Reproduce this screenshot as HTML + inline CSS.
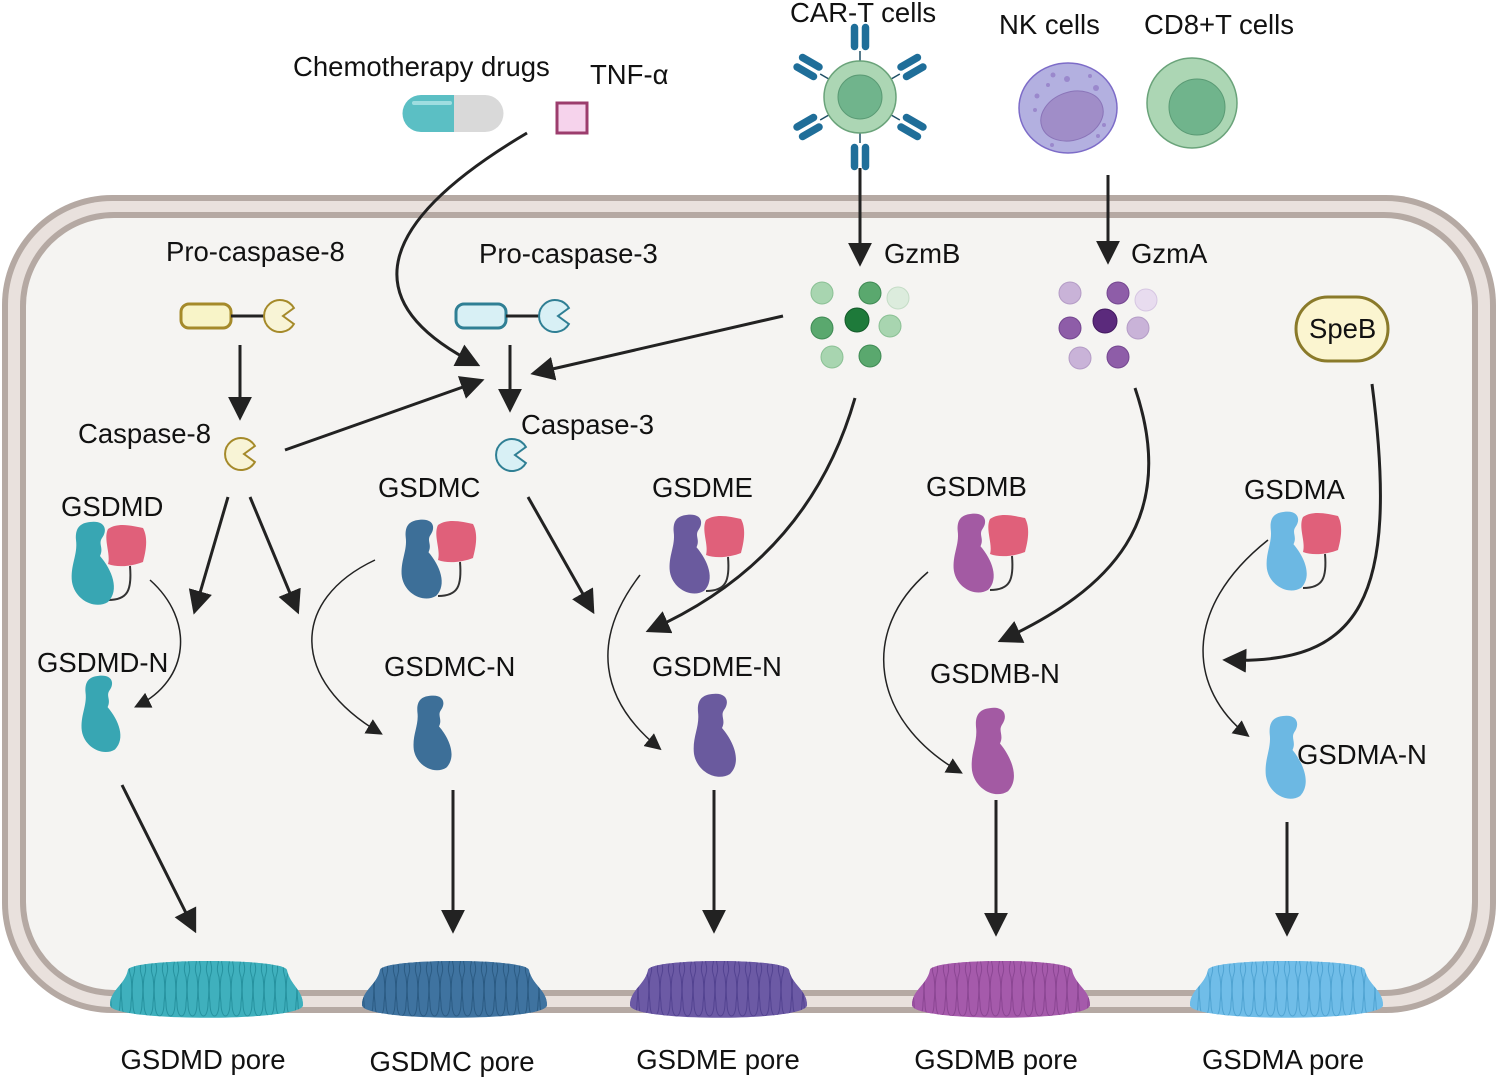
<!DOCTYPE html>
<html><head><meta charset="utf-8"><style>
html,body{margin:0;padding:0;background:#fff}
svg{display:block}
text{font-family:"Liberation Sans",sans-serif;font-size:27.5px;fill:#111}
</style></head><body>
<svg width="1498" height="1079" viewBox="0 0 1498 1079" xmlns="http://www.w3.org/2000/svg">
<defs>
<marker id="ah" viewBox="0 0 10 10" refX="8" refY="5" markerWidth="11" markerHeight="11" orient="auto" markerUnits="strokeWidth">
<path d="M0,0 L10,5 L0,10 Z" fill="#222"/></marker>
<marker id="ah2" viewBox="0 0 10 10" refX="8" refY="5" markerWidth="8" markerHeight="8" orient="auto" markerUnits="strokeWidth">
<path d="M0,0 L10,5 L0,10 Z" fill="#222"/></marker>
<path id="nb" d="M20,2 C35,0 38,10 32,18 C28,24 34,28 30,36 C42,50 50,70 38,82 C25,90 5,80 2,62 C0,45 8,35 6,20 C5,8 10,3 20,2Z"/>
<path id="pb" d="M5,5 C15,-2 30,2 40,4 C46,15 42,30 40,38 C30,42 15,44 5,40 C8,30 0,15 5,5Z"/>
<path id="pac" d="M13.9,-8 A16 16 0 1 0 13.9,8 L3,0Z"/>
<path id="pin" d="M5.5,1 C9,1 10,5 9,9 C8,13 8,16 10,22 C11,30 11,40 10,48 C10,56 8,61 5.5,61 C3,61 1,56 1,48 C0,40 0,30 1,22 C3,16 3,13 2,9 C1,5 2,1 5.5,1Z"/>
<g id="ab"><line x1="0" y1="-36" x2="0" y2="-46" stroke="#1f4f66" stroke-width="1.5"/>
<rect x="-10" y="-74" width="9" height="28" rx="4.5" fill="#1f6e99" stroke="#fff" stroke-width="1.5"/>
<rect x="1" y="-74" width="9" height="28" rx="4.5" fill="#1f6e99" stroke="#fff" stroke-width="1.5"/></g>
<pattern id="pD" width="11" height="70" patternUnits="userSpaceOnUse" x="0" y="955"><use href="#pin" fill="#3fb0bd" stroke="#25919e" stroke-width="1"/></pattern>
<pattern id="pC" width="11" height="70" patternUnits="userSpaceOnUse" x="0" y="955"><use href="#pin" fill="#3f73a0" stroke="#2a5a82" stroke-width="1"/></pattern>
<pattern id="pE" width="11" height="70" patternUnits="userSpaceOnUse" x="0" y="955"><use href="#pin" fill="#6c5aa5" stroke="#524290" stroke-width="1"/></pattern>
<pattern id="pB" width="11" height="70" patternUnits="userSpaceOnUse" x="0" y="955"><use href="#pin" fill="#a55aab" stroke="#8a4592" stroke-width="1"/></pattern>
<pattern id="pA" width="11" height="70" patternUnits="userSpaceOnUse" x="0" y="955"><use href="#pin" fill="#70bde8" stroke="#4fa3d2" stroke-width="1"/></pattern>
</defs>

<!-- membrane -->
<rect x="2" y="195" width="1494" height="818" rx="110" fill="#b5a9a3"/>
<rect x="8" y="201" width="1482" height="806" rx="104" fill="#e9e1dd"/>
<rect x="20" y="212" width="1458" height="784" rx="94" fill="#b5a9a3"/>
<rect x="26" y="218" width="1446" height="772" rx="88" fill="#f5f4f2"/>

<!-- top labels -->
<text x="293" y="76">Chemotherapy drugs</text>
<text x="590" y="84">TNF-α</text>
<text x="790" y="22">CAR-T cells</text>
<text x="999" y="34">NK cells</text>
<text x="1144" y="34">CD8+T cells</text>

<!-- capsule -->
<path d="M421,95 H454 V132 H421 A18.5 18.5 0 0 1 421,95Z" fill="#5bbfc4"/>
<path d="M454,95 H485 A18.5 18.5 0 0 1 485,132 H454Z" fill="#d9d9d9"/>
<rect x="412" y="101" width="40" height="4" rx="2" fill="#9fdde0"/>
<rect x="557" y="103" width="30" height="30" fill="#f6d3ec" stroke="#9c3d6d" stroke-width="3"/>

<!-- CAR-T -->
<g transform="translate(860,97)">
<use href="#ab"/><use href="#ab" transform="rotate(60)"/><use href="#ab" transform="rotate(120)"/><use href="#ab" transform="rotate(180)"/><use href="#ab" transform="rotate(240)"/><use href="#ab" transform="rotate(300)"/>
<circle r="36" fill="#acd6b4" stroke="#6aa37a" stroke-width="1.5"/>
<circle r="22" fill="#70b48c" stroke="#5a9a74" stroke-width="1"/></g>
<!-- NK -->
<ellipse cx="1068" cy="108" rx="49" ry="45" fill="#b3b0e0" stroke="#7d6cc8" stroke-width="1.5"/>
<ellipse cx="1072" cy="116" rx="32" ry="24" transform="rotate(-20 1072 116)" fill="#a08dc8" stroke="#8a74b8"/>
<g fill="#9a88cc"><circle cx="1053" cy="75" r="2.5"/><circle cx="1067" cy="79" r="3"/><circle cx="1090" cy="76" r="2"/><circle cx="1037" cy="96" r="2.5"/><circle cx="1048" cy="85" r="2"/><circle cx="1096" cy="88" r="3"/><circle cx="1104" cy="125" r="2"/><circle cx="1098" cy="136" r="2"/><circle cx="1052" cy="145" r="2"/><circle cx="1035" cy="110" r="2"/></g>
<!-- CD8 -->
<circle cx="1192" cy="103" r="45" fill="#acd6b4" stroke="#6aa37a" stroke-width="1.5"/>
<circle cx="1197" cy="107" r="28" fill="#70b48c" stroke="#5a9a74"/>

<!-- arrows (straight) -->
<g stroke="#222" stroke-width="3" fill="none" marker-end="url(#ah2)">
<line x1="860" y1="168" x2="860" y2="262"/>
<line x1="1108" y1="175" x2="1108" y2="260"/>
<line x1="240" y1="345" x2="240" y2="416"/>
<line x1="510" y1="345" x2="510" y2="408"/>
<line x1="285" y1="450" x2="480" y2="381"/>
<line x1="783" y1="316" x2="535" y2="373"/>
<line x1="228" y1="497" x2="195" y2="610"/>
<line x1="250" y1="497" x2="297" y2="610"/>
<line x1="528" y1="497" x2="592" y2="610"/>
<line x1="122" y1="785" x2="194" y2="929"/>
<line x1="453" y1="790" x2="453" y2="929"/>
<line x1="714" y1="790" x2="714" y2="929"/>
<line x1="996" y1="800" x2="996" y2="932"/>
<line x1="1287" y1="822" x2="1287" y2="932"/>
<path d="M527,133 C380,220 350,300 476,364"/>
<path d="M855,398 C820,520 740,590 650,630"/>
<path d="M1135,388 C1180,520 1110,590 1002,640"/>
<path d="M1372,384 C1400,600 1360,665 1227,660"/>
</g>
<g stroke="#222" stroke-width="1.5" fill="none" marker-end="url(#ah)">
<path d="M150,580 C195,620 190,680 137,706"/>
<path d="M375,560 C290,600 290,680 380,733"/>
<path d="M640,575 C590,640 600,700 659,748"/>
<path d="M928,572 C860,630 870,720 960,772"/>
<path d="M1268,540 C1180,610 1190,690 1247,735"/>
</g>

<!-- caspases -->
<rect x="181" y="304" width="50" height="24" rx="8" fill="#f8f4c8" stroke="#a58a2a" stroke-width="3"/>
<line x1="231" y1="316" x2="264" y2="316" stroke="#222" stroke-width="3"/>
<use href="#pac" transform="translate(280,316)" fill="#f8f4d6" stroke="#a58a2a" stroke-width="2"/>
<rect x="456" y="304" width="50" height="24" rx="8" fill="#d8f0f5" stroke="#2f7f94" stroke-width="3"/>
<line x1="506" y1="316" x2="539" y2="316" stroke="#222" stroke-width="3"/>
<use href="#pac" transform="translate(555,316)" fill="#d8f0f5" stroke="#2f7f94" stroke-width="2"/>
<use href="#pac" transform="translate(241,454)" fill="#f8f4d6" stroke="#a58a2a" stroke-width="2"/>
<use href="#pac" transform="translate(512,455)" fill="#d8f0f5" stroke="#2f7f94" stroke-width="2"/>
<text x="166" y="261">Pro-caspase-8</text>
<text x="479" y="263">Pro-caspase-3</text>
<text x="78" y="443">Caspase-8</text>
<text x="521" y="434">Caspase-3</text>
<text x="884" y="263">GzmB</text>
<text x="1131" y="263">GzmA</text>

<!-- GzmB dots -->
<g stroke-width="1">
<circle cx="822" cy="293" r="11" fill="#a8d5b0" stroke="#8ac094"/>
<circle cx="870" cy="293" r="11" fill="#5aa86e" stroke="#3f8a54"/>
<circle cx="898" cy="298" r="11" fill="#dcecdd" stroke="#c4dcc6"/>
<circle cx="822" cy="328" r="11" fill="#5aa86e" stroke="#3f8a54"/>
<circle cx="857" cy="320" r="12" fill="#1e7a3a" stroke="#145a2a"/>
<circle cx="890" cy="326" r="11" fill="#a8d5b0" stroke="#8ac094"/>
<circle cx="832" cy="357" r="11" fill="#a8d5b0" stroke="#8ac094"/>
<circle cx="870" cy="356" r="11" fill="#5aa86e" stroke="#3f8a54"/>
<circle cx="1070" cy="293" r="11" fill="#c9b3d8" stroke="#b49cc6"/>
<circle cx="1118" cy="293" r="11" fill="#8e5da8" stroke="#744690"/>
<circle cx="1146" cy="300" r="11" fill="#e8dcef" stroke="#d6c6e2"/>
<circle cx="1070" cy="328" r="11" fill="#8e5da8" stroke="#744690"/>
<circle cx="1105" cy="321" r="12" fill="#5b2a7c" stroke="#431a60"/>
<circle cx="1138" cy="328" r="11" fill="#c9b3d8" stroke="#b49cc6"/>
<circle cx="1080" cy="358" r="11" fill="#c9b3d8" stroke="#b49cc6"/>
<circle cx="1118" cy="357" r="11" fill="#8e5da8" stroke="#744690"/>
</g>
<rect x="1296" y="297" width="92" height="64" rx="32" fill="#fbf5d0" stroke="#8a7a2a" stroke-width="3"/>
<text x="1309" y="338">SpeB</text>

<!-- full proteins -->
<g transform="translate(70,520)"><use href="#pb" transform="translate(33,4)" fill="#e0607a"/><path d="M38,80 C58,80 62,70 60,46" stroke="#333" stroke-width="2" fill="none"/><use href="#nb" fill="#38a6b3"/></g>
<g transform="translate(400,518)"><use href="#pb" transform="translate(33,2)" fill="#e0607a"/><path d="M38,78 C58,78 62,68 60,44" stroke="#333" stroke-width="2" fill="none"/><use href="#nb" transform="scale(0.95)" fill="#3d6f98"/></g>
<g transform="translate(668,513)"><use href="#pb" transform="translate(33,2)" fill="#e0607a"/><path d="M38,78 C58,78 62,68 60,44" stroke="#333" stroke-width="2" fill="none"/><use href="#nb" transform="scale(0.95)" fill="#6a5a9e"/></g>
<g transform="translate(952,512)"><use href="#pb" transform="translate(33,2)" fill="#e0607a"/><path d="M38,78 C58,78 62,68 60,44" stroke="#333" stroke-width="2" fill="none"/><use href="#nb" transform="scale(0.95)" fill="#a35aa3"/></g>
<g transform="translate(1265,510)"><use href="#pb" transform="translate(33,2)" fill="#e0607a"/><path d="M38,78 C58,78 62,68 60,44" stroke="#333" stroke-width="2" fill="none"/><use href="#nb" transform="scale(0.95)" fill="#6cb8e3"/></g>
<!-- N fragments -->
<use href="#nb" transform="translate(80,674) scale(0.92)" fill="#38a6b3"/>
<use href="#nb" transform="translate(412,694) scale(0.9)" fill="#3d6f98"/>
<use href="#nb" transform="translate(692,692)" fill="#6a5a9e"/>
<use href="#nb" transform="translate(970,706) scale(1,1.04)" fill="#a35aa3"/>
<use href="#nb" transform="translate(1264,714) scale(0.95,1)" fill="#6cb8e3"/>

<text x="61" y="516">GSDMD</text>
<text x="37" y="672">GSDMD-N</text>
<text x="378" y="497">GSDMC</text>
<text x="384" y="676">GSDMC-N</text>
<text x="652" y="497">GSDME</text>
<text x="652" y="676">GSDME-N</text>
<text x="926" y="496">GSDMB</text>
<text x="930" y="683">GSDMB-N</text>
<text x="1244" y="499">GSDMA</text>
<text x="1297" y="764">GSDMA-N</text>

<!-- pores -->
<path d="M110,1005 C110,990 125,985 128,970 C130,958 285,958 287,970 C290,985 303,990 303,1005 C303,1022 110,1022 110,1005Z" fill="#3fb0bd"/>
<path d="M110,1005 C110,990 125,985 128,970 C130,958 285,958 287,970 C290,985 303,990 303,1005 C303,1022 110,1022 110,1005Z" fill="url(#pD)"/>
<path d="M362,1005 C362,990 377,985 380,970 C382,958 527,958 529,970 C532,985 547,990 547,1005 C547,1022 362,1022 362,1005Z" fill="#3f73a0"/>
<path d="M362,1005 C362,990 377,985 380,970 C382,958 527,958 529,970 C532,985 547,990 547,1005 C547,1022 362,1022 362,1005Z" fill="url(#pC)"/>
<path d="M630,1005 C630,990 645,985 648,970 C650,958 787,958 789,970 C792,985 807,990 807,1005 C807,1022 630,1022 630,1005Z" fill="#6c5aa5"/>
<path d="M630,1005 C630,990 645,985 648,970 C650,958 787,958 789,970 C792,985 807,990 807,1005 C807,1022 630,1022 630,1005Z" fill="url(#pE)"/>
<path d="M912,1005 C912,990 927,985 930,970 C932,958 1070,958 1072,970 C1075,985 1090,990 1090,1005 C1090,1022 912,1022 912,1005Z" fill="#a55aab"/>
<path d="M912,1005 C912,990 927,985 930,970 C932,958 1070,958 1072,970 C1075,985 1090,990 1090,1005 C1090,1022 912,1022 912,1005Z" fill="url(#pB)"/>
<path d="M1190,1005 C1190,990 1205,985 1208,970 C1210,958 1363,958 1365,970 C1368,985 1383,990 1383,1005 C1383,1022 1190,1022 1190,1005Z" fill="#70bde8"/>
<path d="M1190,1005 C1190,990 1205,985 1208,970 C1210,958 1363,958 1365,970 C1368,985 1383,990 1383,1005 C1383,1022 1190,1022 1190,1005Z" fill="url(#pA)"/>

<g text-anchor="middle">
<text x="203" y="1069">GSDMD pore</text>
<text x="452" y="1071">GSDMC pore</text>
<text x="718" y="1069">GSDME pore</text>
<text x="996" y="1069">GSDMB pore</text>
<text x="1283" y="1069">GSDMA pore</text>
</g>
</svg>
</body></html>
